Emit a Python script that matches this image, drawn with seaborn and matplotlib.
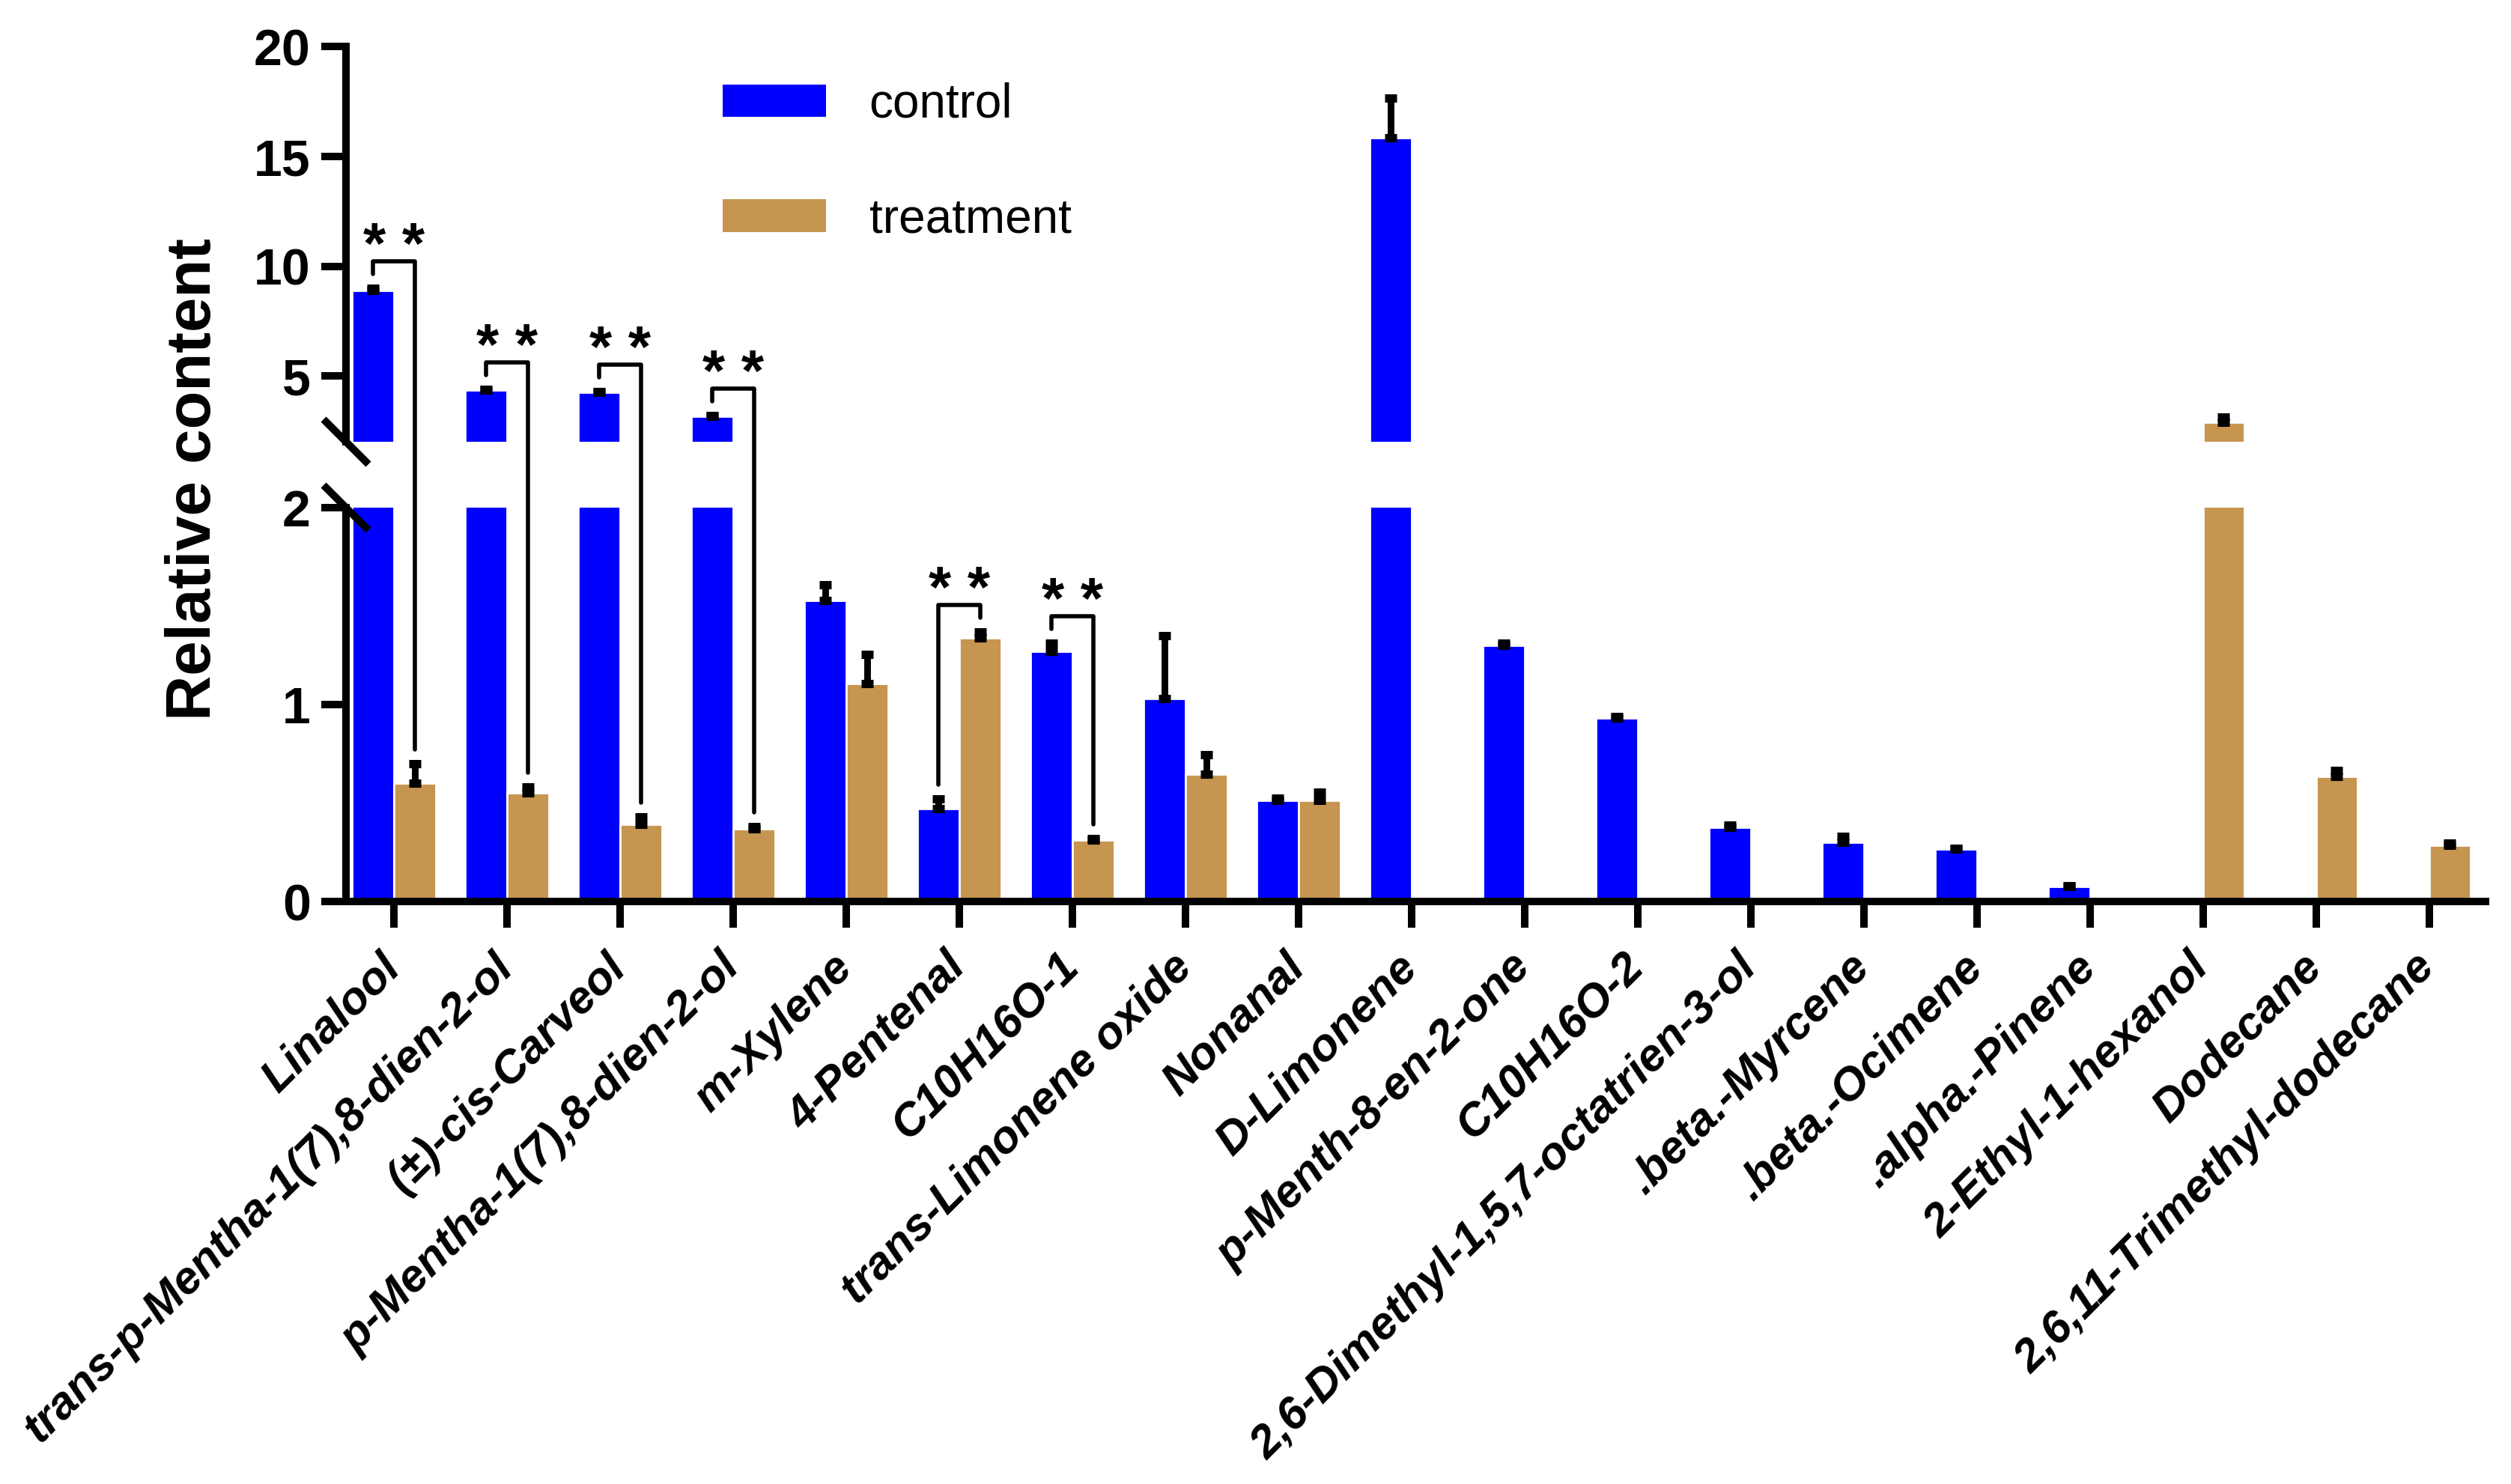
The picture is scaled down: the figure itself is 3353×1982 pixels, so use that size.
import numpy as np
import pandas as pd
import matplotlib
matplotlib.use("Agg")
import matplotlib.pyplot as plt
from matplotlib.lines import Line2D
from matplotlib.patches import Patch
import seaborn as sns

compounds = ["Linalool", "trans-p-Mentha-1(7),8-dien-2-ol", "(\u00b1)-cis-Carveol",
             "p-Mentha-1(7),8-dien-2-ol", "m-Xylene", "4-Pentenal", "C10H16O-1",
             "trans-Limonene oxide", "Nonanal", "D-Limonene", "p-Menth-8-en-2-one",
             "C10H16O-2", "2,6-Dimethyl-1,5,7-octatrien-3-ol", ".beta.-Myrcene",
             ".beta.-Ocimene", ".alpha.-Pinene", "2-Ethyl-1-hexanol", "Dodecane",
             "2,6,11-Trimethyl-dodecane"]
control = [8.9, 4.35, 4.25, 3.16, 1.53, 0.47, 1.27, 1.03, 0.515, 15.86, 1.30,
           0.93, 0.378, 0.30, 0.266, 0.075, 0.0, 0.0, 0.0]
control_err = [0.1, 0.05, 0.05, 0.05, 0.08, 0.05, 0.04, 0.32, 0.01, 1.8, 0.01,
               0.01, 0.01, 0.03, 0.005, 0.005, 0.0, 0.0, 0.0]
treatment = [0.60, 0.55, 0.39, 0.37, 1.105, 1.34, 0.31, 0.645, 0.515, 0.0, 0.0,
             0.0, 0.0, 0.0, 0.0, 0.0, 2.89, 0.635, 0.285]
treatment_err = [0.10, 0.03, 0.04, 0.01, 0.15, 0.03, 0.01, 0.10, 0.04, 0.0, 0.0,
                 0.0, 0.0, 0.0, 0.0, 0.0, 0.25, 0.03, 0.01]
groups = ["control", "treatment"]
significant = ["Linalool", "trans-p-Mentha-1(7),8-dien-2-ol", "(\u00b1)-cis-Carveol",
               "p-Mentha-1(7),8-dien-2-ol", "4-Pentenal", "C10H16O-1"]
sig_label = "* *"
lower_ticks = [0, 1, 2]
upper_ticks = [5, 10, 15, 20]
ylabel = "Relative content"

BLUE = "#0000FF"
TAN = "#C6954F"
W = 3353
H = 1982
DPI = 200

sns.set_style("ticks")
plt.rcParams["font.family"] = ["Liberation Sans", "DejaVu Sans"]
for k in ("text.color", "axes.edgecolor", "axes.labelcolor", "xtick.color", "ytick.color"):
    plt.rcParams[k] = "black"

df = pd.DataFrame({
    "compound": compounds * 2,
    "group": [groups[0]] * len(compounds) + [groups[1]] * len(compounds),
    "value": control + treatment,
})

fig = plt.figure(figsize=(W / DPI, H / DPI), dpi=DPI)
left, right = 462 / W, 3319 / W
low = fig.add_axes([left, 1 - 1204 / H, right - left, (1204 - 678) / H])
up = fig.add_axes([left, 1 - 590 / H, right - left, (590 - 62.5) / H])

barw = 0.74
for ax in (low, up):
    sns.barplot(data=df, x="compound", y="value", hue="group", order=compounds,
                hue_order=groups, palette=[BLUE, TAN], saturation=1, width=barw,
                errorbar=None, edgecolor="white", linewidth=1.0, legend=False, ax=ax)
    off = barw / 4
    xs = np.arange(len(compounds))
    for vals, errs, sgn in ((control, control_err, -1), (treatment, treatment_err, 1)):
        v = np.array(vals)
        e = np.array(errs)
        m = v > 0
        ax.errorbar(xs[m] + sgn * off, v[m], yerr=[np.zeros(m.sum()), e[m]], fmt="none",
                    ecolor="black", elinewidth=3.2, capsize=3, capthick=4, zorder=5)
    ax.set_xlim(-0.424, 18.5)
    ax.set_xlabel("")
    ax.set_ylabel("")
    for s in ("top", "right"):
        ax.spines[s].set_visible(False)
    for s in ("left", "bottom"):
        ax.spines[s].set_linewidth(3.6)
        ax.spines[s].set_color("black")
    ax.tick_params(axis="y", length=12, width=3.6, pad=5, labelsize=24.5, colors="black")

low.set_ylim(0, 2)
low.set_yticks(lower_ticks)
low.set_yticklabels([str(t) for t in lower_ticks], fontweight="bold", fontsize=24.5)
low.set_xticks(np.arange(len(compounds)))
low.set_xticklabels(compounds, rotation=45, ha="right", va="center",
                    rotation_mode="anchor", fontsize=22, fontweight="bold", fontstyle="italic")
low.tick_params(axis="x", length=12.6, width=3.6, pad=16, colors="black")

up.set_ylim(2, 20)
up.set_yticks(upper_ticks)
up.set_yticklabels([str(t) for t in upper_ticks], fontweight="bold", fontsize=24.5)
up.spines["bottom"].set_visible(False)
up.tick_params(axis="x", bottom=False, labelbottom=False)

# break marks
inv = fig.transFigure.inverted()
for yb in (590, 678):
    yc = H - yb
    p0 = inv.transform((462 - 30, yc + 30))
    p1 = inv.transform((462 + 30, yc - 30))
    fig.add_artist(Line2D([p0[0], p1[0]], [p0[1], p1[1]], color="black", lw=3.6,
                          solid_capstyle="butt"))

# significance brackets
def disp(x, v):
    ax = up if v > 2 else low
    return ax.transData.transform((x, v))

off = barw / 4
for name in significant:
    i = compounds.index(name)
    xc, xt = i - off, i + off
    pc = disp(xc, control[i] + control_err[i])
    pt = disp(xt, treatment[i] + treatment_err[i])
    yc = pc[1] + 19
    yt = pt[1] + 19
    yh = max(yc, yt) + 17
    pts = [(pc[0], yc), (pc[0], yh), (pt[0], yh), (pt[0], yt)]
    fp = inv.transform(pts)
    fig.add_artist(Line2D(fp[:, 0], fp[:, 1], color="black", lw=2.0))
    tp = inv.transform(((pc[0] + pt[0]) / 2, yh - 3))
    fig.text(tp[0], tp[1], sig_label, ha="center", va="baseline", fontsize=28,
             fontweight="bold")

fig.text(259 / W, 1 - 640 / H, ylabel, rotation=90, ha="center", va="center",
         fontsize=30, fontweight="bold")

handles = [Patch(facecolor=BLUE, linewidth=0), Patch(facecolor=TAN, linewidth=0)]
fig.legend(handles, groups, loc="upper left", bbox_to_anchor=(965 / W, 1 - 110 / H),
           frameon=False, fontsize=23, borderpad=0, borderaxespad=0,
           handlelength=2.16, handleheight=0.67, handletextpad=0.9, labelspacing=1.46)

fig.savefig("out.png", dpi=DPI)
